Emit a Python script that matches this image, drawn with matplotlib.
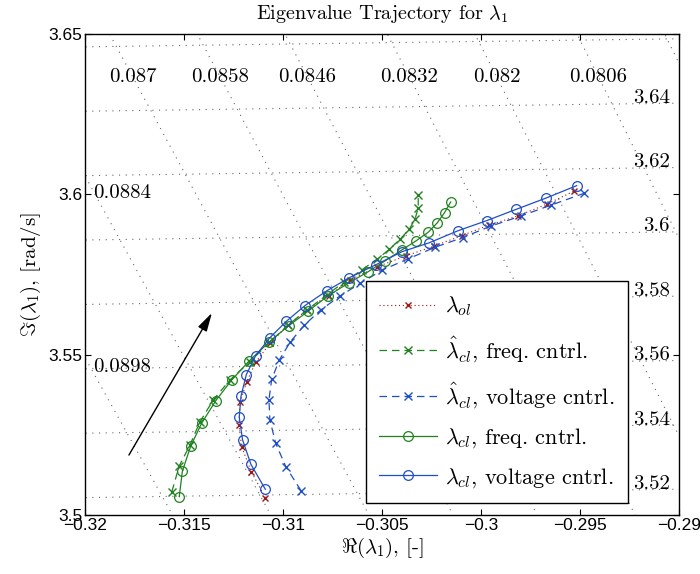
import numpy as np
import matplotlib
matplotlib.use("Agg")
import matplotlib.pyplot as plt

plt.rcParams["mathtext.fontset"] = "cm"

# eigenvalue lambda_1 for increasing gain (real part, imaginary part)
ol_re = [-0.31089, -0.31160, -0.31209, -0.31222, -0.31217, -0.31183, -0.31136, -0.31066, -0.30975, -0.30880,
         -0.30769, -0.30662, -0.30524, -0.30380, -0.30239, -0.30098, -0.29960, -0.29812, -0.29669, -0.29530]
ol_im = [3.5054, 3.5135, 3.5213, 3.5281, 3.5351, 3.5416, 3.5478, 3.5535, 3.5592, 3.5639,
         3.5683, 3.5733, 3.5774, 3.5808, 3.5838, 3.5871, 3.5904, 3.5933, 3.5969, 3.6010]

est_freq_re = [-0.31561, -0.31524, -0.31470, -0.31419, -0.31352, -0.31268, -0.31167, -0.31069, -0.30975, -0.30880,
               -0.30779, -0.30690, -0.30602, -0.30527, -0.30463, -0.30409, -0.30362, -0.30333, -0.30317, -0.30317]
est_freq_im = [3.5073, 3.5153, 3.5218, 3.5291, 3.5359, 3.5421, 3.5478, 3.5538, 3.5592, 3.5639,
               3.5686, 3.5727, 3.5764, 3.5797, 3.5828, 3.5860, 3.5891, 3.5923, 3.5958, 3.5998]

est_volt_re = [-0.30909, -0.30986, -0.31037, -0.31066, -0.31071, -0.31057, -0.31019, -0.30963, -0.30892, -0.30810,
               -0.30712, -0.30611, -0.30498, -0.30367, -0.30232, -0.30093, -0.29950, -0.29800, -0.29648, -0.29480]
est_volt_im = [3.5076, 3.5151, 3.5224, 3.5296, 3.5359, 3.5423, 3.5483, 3.5540, 3.5592, 3.5639,
               3.5683, 3.5722, 3.5764, 3.5799, 3.5835, 3.5865, 3.5901, 3.5932, 3.5966, 3.6003]

cl_freq_re = [-0.31524, -0.31508, -0.31466, -0.31411, -0.31340, -0.31259, -0.31170, -0.31069, -0.30972, -0.30872,
              -0.30774, -0.30667, -0.30569, -0.30483, -0.30401, -0.30330, -0.30266, -0.30221, -0.30184, -0.30153]
cl_freq_im = [3.5057, 3.5137, 3.5215, 3.5286, 3.5356, 3.5421, 3.5481, 3.5540, 3.5590, 3.5636,
              3.5683, 3.5724, 3.5759, 3.5793, 3.5826, 3.5854, 3.5882, 3.5911, 3.5943, 3.5976]

cl_volt_re = [-0.31089, -0.31162, -0.31204, -0.31221, -0.31212, -0.31185, -0.31138, -0.31066, -0.30983, -0.30889,
              -0.30779, -0.30665, -0.30532, -0.30399, -0.30261, -0.30118, -0.29971, -0.29823, -0.29673, -0.29517]
cl_volt_im = [3.5080, 3.5158, 3.5234, 3.5305, 3.5371, 3.5438, 3.5497, 3.5553, 3.5604, 3.5653,
              3.5699, 3.5740, 3.5780, 3.5821, 3.5849, 3.5886, 3.5918, 3.5953, 3.5988, 3.6027]

# s-plane grid: damping ratios and natural frequencies
zetas = [0.0794, 0.0806, 0.082, 0.0832, 0.0846, 0.0858, 0.087, 0.0884, 0.0898]
zeta_top_labels = ["0.0806", "0.082", "0.0832", "0.0846", "0.0858", "0.087"]
zeta_left_labels = {"0.0884": 3.6003, "0.0898": 3.5460}
wns = [3.50, 3.52, 3.54, 3.56, 3.58, 3.60, 3.62, 3.64, 3.66]
wn_labels = ["3.52", "3.54", "3.56", "3.58", "3.6", "3.62", "3.64"]

xticks = [-0.32, -0.315, -0.31, -0.305, -0.3, -0.295, -0.29]
xticklabels = ["\u22120.32", "\u22120.315", "\u22120.31", "\u22120.305", "\u22120.3", "\u22120.295", "\u22120.29"]
yticks = [3.5, 3.55, 3.6, 3.65]
yticklabels = ["3.5", "3.55", "3.6", "3.65"]

red = "#a01515"
green = "#1f821f"
blue = "#1f4fc4"
serif = "cmr10"

fig = plt.figure(figsize=(7, 5.74), dpi=100)
ax = fig.add_axes([0.1214, 0.1028, 0.8486, 0.838])
ax.set_xlim(-0.32, -0.29)
ax.set_ylim(3.5, 3.65)

grid_kw = dict(color="0.4", lw=0.8, linestyle=(0, (1, 5)), zorder=0)
w = np.linspace(3.3, 3.9, 50)
for z in zetas:
    ax.plot(-z * w, w * np.sqrt(1 - z ** 2), **grid_kw)
xs = np.linspace(-0.33, -0.28, 60)
for wn in wns:
    ax.plot(xs, np.sqrt(wn ** 2 - xs ** 2), **grid_kw)

# damping ratio labels
y_lab = 3.6366
for lab in zeta_top_labels:
    z = float(lab)
    ax.text(-y_lab * z / np.sqrt(1 - z ** 2), y_lab, lab, ha="center", va="center",
            fontsize=15, family=serif, zorder=1)
for lab, yy in zeta_left_labels.items():
    ax.text(-0.3196, yy, lab, ha="left", va="center", fontsize=15, family=serif, zorder=1)
# natural frequency labels
for lab in wn_labels:
    wn = float(lab)
    ax.text(-0.29045, np.sqrt(wn ** 2 - 0.2905 ** 2) + 0.0017, lab, ha="right", va="center",
            fontsize=15, family=serif, zorder=1)

ax.plot(ol_re, ol_im, color=red, linestyle=(0, (1, 2.5)), lw=0.8, marker="x", ms=5, mew=1,
        label=r"$\lambda_{ol}$")
ax.plot(est_freq_re, est_freq_im, color=green, linestyle=(0, (6, 4)), lw=0.9, marker="x", ms=6, mew=1,
        label=r"$\hat{\lambda}_{cl}$, freq. cntrl.")
ax.plot(est_volt_re, est_volt_im, color=blue, linestyle=(0, (6, 4)), lw=0.9, marker="x", ms=6, mew=1,
        label=r"$\hat{\lambda}_{cl}$, voltage cntrl.")
ax.plot(cl_freq_re, cl_freq_im, color=green, lw=0.9, marker="o", ms=7, mfc="none", mew=0.9,
        label=r"$\lambda_{cl}$, freq. cntrl.")
ax.plot(cl_volt_re, cl_volt_im, color=blue, lw=0.9, marker="o", ms=7, mfc="none", mew=0.9,
        label=r"$\lambda_{cl}$, voltage cntrl.")

# direction of increasing gain
ax.annotate("", xy=(-0.31359, 3.5630), xytext=(-0.31778, 3.5187),
            arrowprops=dict(arrowstyle="-|>,head_length=0.75,head_width=0.2", mutation_scale=15,
                            lw=1, color="k", shrinkA=0, shrinkB=0))

ax.set_xticks(xticks)
ax.set_xticklabels(xticklabels, family="Liberation Sans", fontsize=12.5)
ax.set_yticks(yticks)
ax.set_yticklabels(yticklabels, family="Liberation Sans", fontsize=12.5)
ax.tick_params(direction="in", length=4, width=0.8, top=True, right=True, pad=2)
# nudge the last x label so it stays inside the figure
ax.get_xticklabels()[-1].set_x(-0.2903)
for sp in ax.spines.values():
    sp.set_linewidth(1.0)

ax.set_title(r"Eigenvalue Trajectory for $\lambda_1$", family=serif, fontsize=14.5, pad=11)
ax.set_xlabel(r"$\Re(\lambda_1)$, [-]", family=serif, fontsize=15, labelpad=2)
ax.set_ylabel(r"$\Im(\lambda_1)$, [rad/s]", family=serif, fontsize=15, labelpad=4)

leg = ax.legend(loc="lower left", bbox_to_anchor=(0.473, 0.025), borderaxespad=0,
                prop=dict(family=serif, size=16), fancybox=False, framealpha=1,
                edgecolor="k", handlelength=2.6, handletextpad=0.35, labelspacing=0.72,
                borderpad=0.6, numpoints=1)
leg.get_frame().set_linewidth(1.0)
leg.set_zorder(5)

fig.savefig("out.png", dpi=100)
